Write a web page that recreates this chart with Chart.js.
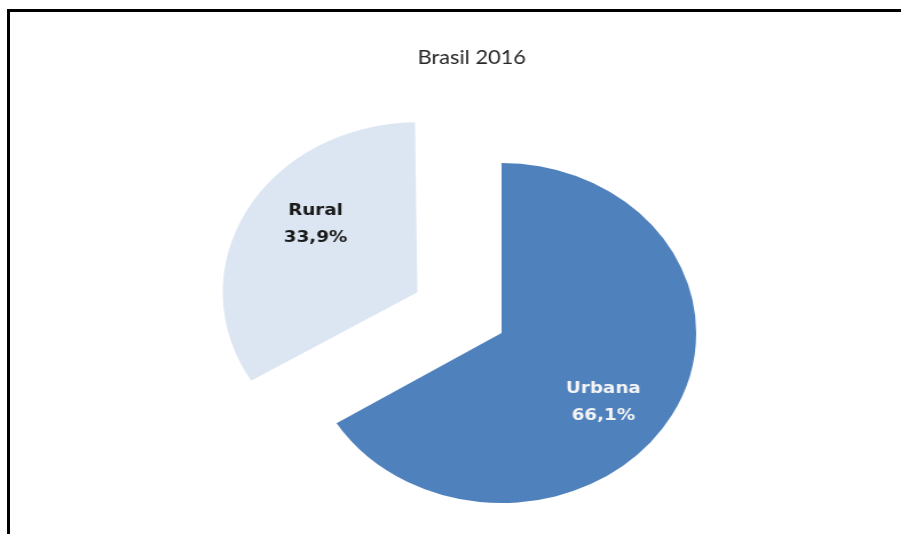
<!DOCTYPE html>
<html>
<head>
<meta charset="utf-8">
<script src="https://cdn.jsdelivr.net/npm/chart.js@4.4.0/dist/chart.umd.min.js"></script>
<style>
  html, body { margin: 0; padding: 0; background: #fff; }
  body { width: 901px; height: 534px; overflow: hidden; position: relative; }
  #frame { position: absolute; left: 7px; top: 9px; right: -10px; bottom: -10px;
           border-top: 3px solid #000; border-left: 3px solid #000; }
  /* the source image is stretched sideways, so the whole chart is too */
  #wrap { position: absolute; left: 0; top: 0; width: 787px; height: 534px;
          transform: scaleX(1.145); transform-origin: 0 0; }
</style>
</head>
<body>
<div id="frame"></div>
<div id="wrap"><canvas id="pieChart"></canvas></div>
<script>
var titleText = 'Brasil 2016';
var categories = ['Urbana', 'Rural'];
var shares = [66.1, 33.9];
var sliceColors = ['#4f81bd', '#dce6f2'];
var labelColors = ['#f4f4f4', '#1a1a1a'];
// chart.js moves an arc by offset / 4
var sliceOffsets = [0, 336];

// chart.js also grows an exploded arc's radius a bit; undo that so both
// slices keep the same radius like in Excel
var keepRadius = {
  id: 'keepRadius',
  afterDatasetsUpdate: function(chart) {
    chart.getDatasetMeta(0).data.forEach(function(arc) {
      var off = (arc.options.offset || 0) / 4;
      var fix = 1 - Math.sin(Math.min(Math.PI, arc.circumference || 0));
      arc.outerRadius = arc.outerRadius - off * fix;
    });
  }
};

// chart title, drawn a little left of the pie centre like the original
var titlePlugin = {
  id: 'titleAt',
  afterDraw: function(chart) {
    var ctx = chart.ctx;
    ctx.save();
    ctx.font = '19px Lato';
    ctx.fillStyle = '#262626';
    ctx.textAlign = 'center';
    ctx.textBaseline = 'middle';
    ctx.fillText(titleText, 412, 58);
    ctx.restore();
  }
};

// "Name / xx,x%" inside each slice
var sliceLabels = {
  id: 'sliceLabels',
  afterDatasetsDraw: function(chart) {
    var ctx = chart.ctx;
    var meta = chart.getDatasetMeta(0);
    ctx.save();
    ctx.font = 'bold 16px "DejaVu Sans"';
    ctx.textAlign = 'center';
    ctx.textBaseline = 'middle';
    meta.data.forEach(function(arc, i) {
      var mid = (arc.startAngle + arc.endAngle) / 2;
      var off = (arc.options.offset || 0) / 4;
      var cx = arc.x + Math.cos(mid) * off;
      var cy = arc.y + Math.sin(mid) * off;
      var a = mid + 0.15;
      var r = 170 * 0.66;
      var x = cx + Math.cos(a) * r;
      var y = cy + Math.sin(a) * r;
      ctx.fillStyle = labelColors[i];
      ctx.fillText(categories[i], x, y - 13);
      ctx.fillText(shares[i].toFixed(1).replace('.', ',') + '%', x, y + 14);
    });
    ctx.restore();
  }
};

var ctx = document.getElementById('pieChart');

var pieChart = new Chart(ctx, {
  type: 'pie',
  data: {
    labels: categories,
    datasets: [{
      data: shares,
      backgroundColor: sliceColors,
      borderWidth: 0,
      offset: sliceOffsets,
      hoverOffset: 0
    }]
  },
  options: {
    responsive: true,
    maintainAspectRatio: false,
    animation: false,
    events: [],
    radius: 170,
    layout: { padding: { left: 139, right: 50, top: 142, bottom: 10 } },
    plugins: {
      legend: { display: false },
      title: { display: false },
      tooltip: { enabled: false }
    }
  },
  plugins: [keepRadius, sliceLabels, titlePlugin]
});
</script>
</body>
</html>
